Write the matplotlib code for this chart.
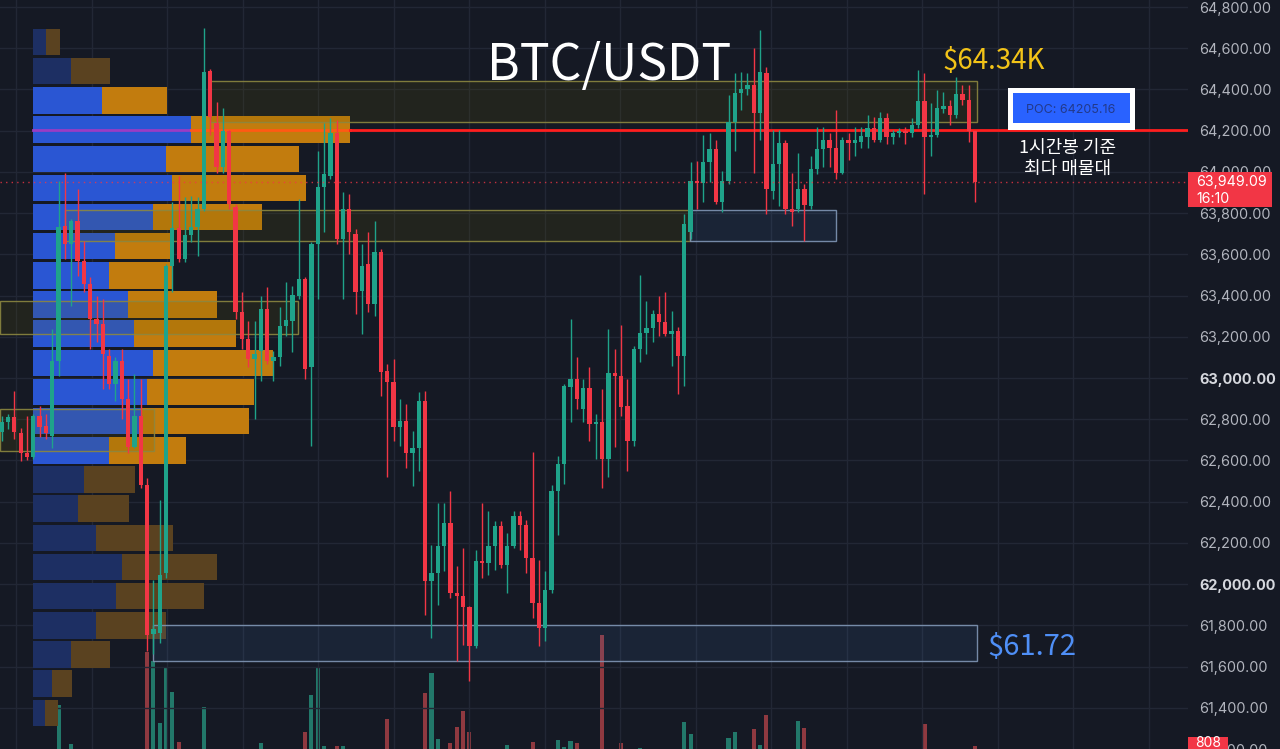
import numpy as np
import matplotlib.pyplot as plt
from matplotlib.patches import Rectangle

BG = '#151924'
GREEN = '#1fa38a'
RED = '#f23645'

# hourly candles, BTC/USDT
opens = [62740, 62788, 62813, 62735, 62638, 62619, 62817, 62769, 62721, 63083,
         63736, 63649, 63760, 63567, 63456, 63287, 63262, 63108, 62972, 63083,
         62900, 62667, 62817, 62479, 61760, 61763, 62053, 63543, 63727, 63577,
         63693, 63731, 63818, 64491, 64239, 64026, 64196, 63828, 63320, 63190,
         63093, 63132, 63335, 63083, 63103, 63253, 63277, 63398, 63480, 63054,
         63649, 63925, 63978, 64191, 63673, 63818, 63698, 63422, 63553, 63359,
         63610, 63035, 62982, 62764, 62793, 62634, 62658, 62890, 62015, 62053,
         62184, 62295, 61957, 61942, 61889, 61700, 62111, 62102, 62184, 62281,
         62092, 62184, 62329, 62285, 62126, 61908, 61787, 61971, 62450, 62585,
         62958, 62996, 62851, 62953, 62779, 62788, 62605, 63025, 63011, 62866,
         62692, 63141, 63219, 63243, 63311, 63272, 63214, 63228, 63108, 63707,
         63954, 63944, 64046, 64113, 63852, 63954, 64244, 64384, 64404, 64423,
         64288, 64481, 63905, 64036, 64138, 63818, 63818, 63915, 63833, 64012,
         64109, 64157, 64118, 63997, 64157, 64142, 64147, 64171, 64215, 64157,
         64263, 64167, 64191, 64200, 64191, 64229, 64346, 64171, 64181, 64307,
         64321, 64278, 64380, 64350, 64196]
highs = [62817, 62827, 62938, 62759, 62817, 62827, 62866, 62827, 63238, 63954,
         63997, 63770, 63915, 63664, 63490, 63398, 63383, 63141, 63103, 63141,
         62996, 63020, 62996, 62513, 62020, 62406, 63552, 63852, 63978, 63876,
         63881, 63876, 64699, 64500, 64341, 64312, 64205, 63843, 63417, 63277,
         63277, 63398, 63441, 63132, 63345, 63465, 63446, 63867, 63490, 63660,
         64099, 64239, 64263, 64254, 63901, 63891, 63722, 63649, 63707, 63760,
         63625, 63069, 63093, 62900, 62875, 62745, 62934, 62938, 62189, 62392,
         62392, 62450, 62087, 62174, 61894, 62164, 62392, 62353, 62305, 62305,
         62247, 62353, 62353, 62310, 62643, 62116, 62063, 62479, 62624, 62972,
         63287, 63103, 62996, 63054, 62827, 62948, 63238, 63141, 63257, 62996,
         63156, 63499, 63373, 63330, 63398, 63417, 63325, 63248, 63794, 64046,
         64051, 64181, 64191, 64157, 64002, 64375, 64481, 64486, 64481, 64602,
         64689, 64510, 64205, 64205, 64157, 63997, 64094, 63939, 64075, 64220,
         64220, 64191, 64302, 64171, 64191, 64220, 64220, 64278, 64268, 64292,
         64288, 64205, 64215, 64220, 64263, 64496, 64481, 64336, 64399, 64389,
         64350, 64462, 64423, 64423, 64196]
lows = [62696, 62754, 62706, 62595, 62600, 62605, 62716, 62706, 62658, 63011,
        63577, 63349, 63494, 63417, 63141, 63175, 62948, 62948, 62890, 62803,
        62634, 62658, 62464, 61676, 61660, 61715, 62029, 63417, 63562, 63562,
        63659, 63591, 63809, 64181, 63997, 63997, 63818, 63287, 63141, 63054,
        62803, 62987, 63069, 62987, 63059, 63204, 63127, 63383, 62996, 62672,
        63383, 63707, 63964, 63649, 63383, 63601, 63311, 63214, 63320, 63301,
        62914, 62522, 62696, 62672, 62561, 62474, 62551, 61850, 61739, 61898,
        62063, 61932, 61628, 61705, 61531, 61691, 62029, 62044, 62068, 62077,
        61957, 62174, 62165, 62053, 61836, 61700, 61724, 61957, 62237, 62488,
        62788, 62851, 62788, 62692, 62609, 62464, 62522, 62667, 62817, 62551,
        62672, 63078, 63117, 63175, 63204, 63204, 63059, 62924, 62962, 63673,
        63818, 63852, 63949, 63843, 63804, 63939, 64099, 64302, 64375, 63997,
        64157, 63794, 63867, 63833, 63794, 63736, 63804, 63664, 63818, 63988,
        64026, 64022, 63964, 63988, 64060, 64075, 64118, 64118, 64147, 64147,
        64133, 64133, 64167, 64133, 64171, 64215, 63891, 64075, 64171, 64288,
        64229, 64263, 64326, 64147, 63852]
closes = [62788, 62813, 62740, 62638, 62619, 62817, 62764, 62735, 63083, 63731,
          63649, 63760, 63567, 63456, 63287, 63262, 63117, 62972, 63083, 62900,
          62667, 62817, 62479, 61753, 61780, 62044, 63543, 63727, 63577, 63693,
          63731, 63818, 64486, 64268, 64026, 64196, 63843, 63320, 63190, 63093,
          63117, 63335, 63083, 63103, 63253, 63282, 63403, 63480, 63045, 63649,
          63925, 63988, 64191, 63673, 63818, 63707, 63417, 63543, 63359, 63610,
          63030, 62982, 62764, 62793, 62634, 62658, 62890, 62015, 62053, 62184,
          62295, 61957, 61942, 61889, 61700, 62111, 62102, 62184, 62281, 62092,
          62184, 62329, 62285, 62126, 61908, 61787, 61971, 62450, 62585, 62962,
          62996, 62900, 62953, 62779, 62788, 62605, 63025, 63011, 62861, 62692,
          63141, 63219, 63243, 63311, 63272, 63214, 63228, 63108, 63746, 63954,
          63944, 64046, 64113, 63852, 63954, 64244, 64384, 64404, 64423, 64288,
          64486, 63915, 64036, 64138, 63818, 63804, 63915, 63838, 64012, 64109,
          64157, 64118, 63997, 64157, 64142, 64157, 64176, 64215, 64157, 64263,
          64167, 64191, 64200, 64191, 64229, 64346, 64171, 64181, 64312, 64321,
          64278, 64380, 64350, 64196, 63949.09]

# visible part of the volume pane
volumes = [0, 0, 0, 0, 0, 0, 0, 0, 0, 11880,
           0, 1350, 0, 0, 0, 0, 0, 0, 0, 0,
           0, 0, 0, 26190, 23760, 7020, 21870, 15390, 1890, 0,
           0, 0, 11340, 0, 0, 0, 0, 0, 0, 0,
           0, 1620, 0, 0, 0, 0, 0, 0, 4590, 14580,
           21870, 810, 0, 810, 810, 0, 0, 0, 0, 0,
           0, 8100, 0, 0, 0, 0, 0, 15120, 20520, 2700,
           0, 1620, 5940, 10260, 4590, 0, 0, 0, 0, 0,
           1080, 0, 0, 0, 1890, 0, 0, 0, 2430, 540,
           2160, 1620, 0, 0, 0, 30780, 0, 0, 1620, 0,
           0, 270, 0, 0, 0, 0, 0, 0, 7290, 4050,
           0, 0, 0, 0, 0, 2970, 4590, 0, 0, 5400,
           1080, 9180, 0, 0, 0, 0, 7560, 5670, 0, 0,
           0, 0, 0, 0, 0, 0, 0, 0, 0, 0,
           0, 0, 0, 0, 0, 0, 6750, 0, 0, 0,
           0, 0, 0, 0, 808]

# volume profile, rows from top to bottom
vp_buy = [13, 38, 69, 158, 133, 139, 120, 82, 76, 95, 101, 120,
          114, 108, 76, 51, 45, 63, 89, 83, 63, 38, 19, 12]
vp_sell = [14, 39, 65, 159, 133, 134, 109, 57, 63, 89, 102, 120,
           107, 108, 77, 51, 51, 77, 95, 88, 70, 39, 20, 13]
vp_top = 64694
vp_step = 141.5
va_rows = range(2, 15)
poc_price = 64205.16
last_price = 63949.09

# zones: start bar, end bar, low, high, kind
zone_x0 = [33.0, 10.0, 108.9, -0.3, -0.3, 24.0]
zone_x1 = [154.3, 108.9, 132.0, 46.9, 24.1, 154.3]
zone_lo = [64244, 63664, 63664, 63214, 62648, 61628]
zone_hi = [64442, 63814, 63814, 63374, 62851, 61802]
zone_kind = ['y', 'y', 'b', 'y', 'y', 'b']

W, H = 1280, 749
PW = 1188 / W
XL = (-0.27, 187.7)
YL = (61212, 64834)
PX = (XL[1] - XL[0]) / 1188  # bars per pixel


def fx(px):
    return px / W


def fy(py):
    return 1 - py / H


fig = plt.figure(figsize=(12.8, 7.49), dpi=100, facecolor=BG)

axv = fig.add_axes([0, 0, PW, 1], zorder=1)
axv.set_facecolor(BG)
axv.set_xlim(XL)
axv.set_ylim(0, 749 * 270)
axv.axis('off')

ax = fig.add_axes([0, 0, PW, 1], zorder=2)
ax.patch.set_visible(False)
ax.set_xlim(XL)
ax.set_ylim(YL)

x = np.arange(len(opens))
o = np.array(opens)
h = np.array(highs)
l = np.array(lows)
c = np.array(closes)
up = c >= o
col = np.where(up, GREEN, RED)
vcol = np.where(up, '#22786a', '#8f3940')

axv.bar(x, volumes, width=0.65, color=vcol, linewidth=0)

# grid
for p in np.arange(61400, 64801, 200):
    ax.axhline(p, color='#222735', lw=1, zorder=0)
for gx in np.arange(2.26, 188, 11.95):
    ax.axvline(gx, color='#222735', lw=1, zorder=0)

# volume profile
x0 = (33 - 1.7) * PX + XL[0] + 0.27
bar_h = 128
for k in range(len(vp_buy)):
    bottom = vp_top - vp_step * k - bar_h
    bright = k in va_rows
    cb = '#2a56d3' if bright else '#1d2f63'
    cs = '#c27c0e' if bright else '#5a4220'
    ax.barh(bottom, vp_buy[k] * PX, left=x0, height=bar_h, align='edge',
            color=cb, linewidth=0, zorder=3)
    ax.barh(bottom, vp_sell[k] * PX, left=x0 + vp_buy[k] * PX, height=bar_h,
            align='edge', color=cs, linewidth=0, zorder=3)

# POC line
poc_k = 3
xb = x0 + vp_buy[poc_k] * PX
xs = xb + vp_sell[poc_k] * PX
ax.plot([x0, xb], [poc_price] * 2, color='#9a3cc4', lw=2, zorder=3.2)
ax.plot([xb, xs], [poc_price] * 2, color='#ff5a14', lw=2, zorder=3.2)
ax.plot([xs, XL[1]], [poc_price] * 2, color='#ff1e1e', lw=2, zorder=3.2)

# zones
for a, b, lo, hi, kind in zip(zone_x0, zone_x1, zone_lo, zone_hi, zone_kind):
    if kind == 'y':
        fc, ec = (0.40, 0.37, 0.0, 0.16), (0.55, 0.53, 0.25, 0.9)
    else:
        fc, ec = (0.31, 0.55, 0.86, 0.10), (0.50, 0.59, 0.71, 0.9)
    ax.add_patch(Rectangle((a, lo), b - a, hi - lo, facecolor=fc,
                           edgecolor=ec, lw=1, zorder=3.5))

# candles
ax.vlines(x, l, h, colors=col, lw=1, zorder=4)
body_lo = np.minimum(o, c)
body_h = np.maximum(np.abs(c - o), 6)
ax.bar(x, body_h, bottom=body_lo, width=0.68, color=col, linewidth=0, zorder=5)

# last price dotted line
ax.axhline(last_price, color=RED, lw=1, ls=(0, (1, 3)), alpha=0.8, zorder=6)

# price axis
ax.yaxis.tick_right()
ticks = np.arange(61200, 64801, 200)
ax.set_yticks(ticks)
ax.set_yticklabels(['{:,.2f}'.format(t) for t in ticks])
ax.tick_params(axis='y', length=0, pad=8, labelsize=10.4, labelcolor='#b2b5be')
ax.set_xticks([])
for lbl, t in zip(ax.get_yticklabels(), ticks):
    lbl.set_fontfamily('Inter')
    if t in (63000, 62000):
        lbl.set_fontweight('bold')
        lbl.set_color('#d6d8de')
for s in ax.spines.values():
    s.set_visible(False)

# last price tag
fig.add_artist(Rectangle((fx(1188), fy(207)), fx(84), 35 / H, facecolor=RED,
                         edgecolor='none', transform=fig.transFigure, zorder=10))
fig.text(fx(1196), fy(182), '{:,.2f}'.format(last_price), color='white',
         fontsize=10.2, family='Inter', va='center', zorder=11)
fig.text(fx(1196), fy(199), '16:10', color='white', fontsize=10.2,
         family='Inter', va='center', zorder=11)

# volume tag
fig.add_artist(Rectangle((fx(1188), 0), fx(40), 12 / H, facecolor=RED,
                         edgecolor='none', transform=fig.transFigure, zorder=10))
fig.text(fx(1208), fy(743), '{:,}'.format(volumes[-1]), color='white',
         fontsize=10, family='Inter', ha='center', va='center', zorder=11)

# titles and notes
fig.text(fx(609), fy(80), 'BTC/USDT', color='white', fontsize=36,
         family='Noto Sans CJK KR', ha='center', va='baseline', zorder=12)
fig.text(fx(994), fy(69), '$64.34K', color='#f2c318', fontsize=20,
         family='Noto Sans CJK KR', ha='center', va='baseline', zorder=12)
fig.text(fx(1032), fy(655), '$61.72', color='#4f8ff7', fontsize=21,
         family='Noto Sans CJK KR', ha='center', va='baseline', zorder=12)

fig.add_artist(Rectangle((fx(1008), fy(130)), fx(127), 42 / H, facecolor='white',
                         edgecolor='none', transform=fig.transFigure, zorder=10))
fig.add_artist(Rectangle((fx(1013), fy(123)), fx(117), 30 / H, facecolor='#2962ff',
                         edgecolor='none', transform=fig.transFigure, zorder=11))
fig.text(fx(1071), fy(110), 'POC: {:.2f}'.format(poc_price), color='#22398a',
         fontsize=9, family='Inter', ha='center', va='center', zorder=12)

fig.text(fx(1068), fy(148), '1시간봉 기준', color='white', fontsize=13,
         family=['Noto Sans CJK KR', 'DejaVu Sans'], ha='center', va='center', zorder=12)
fig.text(fx(1068), fy(169), '최다 매물대', color='white', fontsize=13,
         family=['Noto Sans CJK KR', 'DejaVu Sans'], ha='center', va='center', zorder=12)

fig.savefig('out.png', dpi=100, facecolor=BG)
